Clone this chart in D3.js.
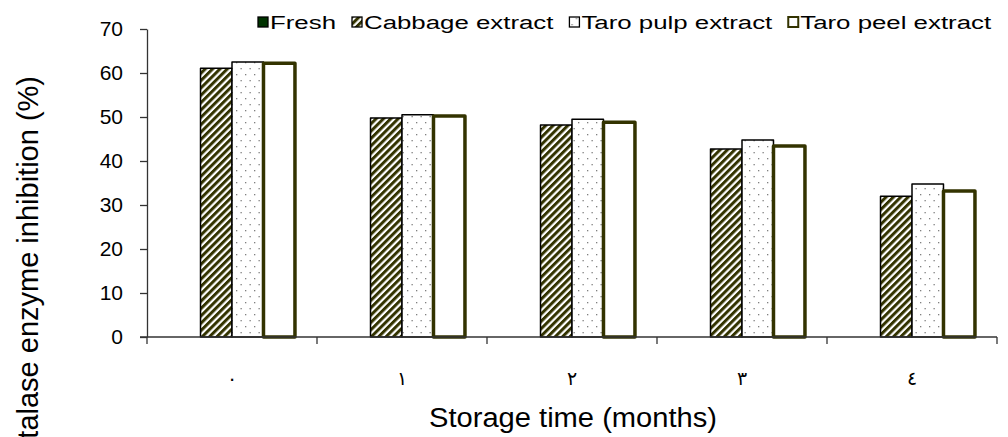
<!DOCTYPE html>
<html>
<head>
<meta charset="utf-8">
<script src="https://cdn.jsdelivr.net/npm/d3@7"></script>
<style>
  body { margin: 0; background: #fff; }
  text { font-family: "Liberation Sans", Arial, sans-serif; fill: #000; }
</style>
</head>
<body>
<div id="chart"></div>
<script>
// data
const categories = ["٠", "١", "٢", "٣", "٤"];
const seriesNames = ["Fresh", "Cabbage extract", "Taro pulp extract", "Taro peel extract"];
const fresh = [null, null, null, null, null];
const cabbage = [61.1, 49.8, 48.2, 42.7, 32.0];
const taroPulp = [62.5, 50.5, 49.5, 44.8, 34.8];
const taroPeel = [62.2, 50.2, 48.8, 43.4, 33.2];
const yTicks = [0, 10, 20, 30, 40, 50, 60, 70];

const seriesValues = [fresh, cabbage, taroPulp, taroPeel];

// canvas
const width = 1008;
const height = 437;
const plotLeft = 147, plotRight = 997, plotTop = 29, plotBottom = 337;

const svg = d3.select("#chart")
  .append("svg")
  .attr("width", width)
  .attr("height", height);

// patterns
const defs = svg.append("defs");

const hatch = defs.append("pattern")
  .attr("id", "hatch")
  .attr("patternUnits", "userSpaceOnUse")
  .attr("width", 5.2)
  .attr("height", 10)
  .attr("patternTransform", "rotate(45)");
hatch.append("rect").attr("width", 5.2).attr("height", 10).attr("fill", "#fff");
hatch.append("rect").attr("width", 3).attr("height", 10).attr("fill", "#333300");

const dots = defs.append("pattern")
  .attr("id", "dots")
  .attr("patternUnits", "userSpaceOnUse")
  .attr("width", 9)
  .attr("height", 12);
dots.append("rect").attr("width", 9).attr("height", 12).attr("fill", "#fff");
dots.append("rect").attr("x", 2).attr("y", 2).attr("width", 1.3).attr("height", 1.3).attr("fill", "#808080");
dots.append("rect").attr("x", 6.5).attr("y", 8).attr("width", 1.3).attr("height", 1.3).attr("fill", "#808080");

const fills = ["#003300", "url(#hatch)", "url(#dots)", "#fff"];
const strokes = ["#000", "#000", "#000", "#333300"];
const strokeWidths = [1.2, 1.5, 1.5, 3.5];

// scales
const x0 = d3.scaleBand().domain(categories).range([plotLeft, plotRight]).padding(0);
const x1 = d3.scaleBand().domain(d3.range(seriesNames.length))
  .range([0, x0.bandwidth()]).paddingInner(0).paddingOuter(0.7);
const y = d3.scaleLinear().domain([0, 70]).range([plotBottom, plotTop]);

// bars
seriesValues.forEach(function (vals, s) {
  svg.append("g")
    .selectAll("rect")
    .data(vals.map((v, i) => ({ cat: categories[i], v: v })).filter(d => d.v != null))
    .enter()
    .append("rect")
    .attr("x", d => x0(d.cat) + x1(s))
    .attr("y", d => y(d.v))
    .attr("width", x1.bandwidth())
    .attr("height", d => y(0) - y(d.v))
    .attr("fill", fills[s])
    .attr("stroke", strokes[s])
    .attr("stroke-width", strokeWidths[s])
    .attr("stroke-linejoin", "round");
});

// y axis
const yAxis = svg.append("g")
  .attr("transform", "translate(" + plotLeft + ",0)")
  .call(d3.axisLeft(y).tickValues(yTicks).tickSize(7).tickPadding(17).tickSizeOuter(0));
yAxis.select(".domain").attr("stroke", "#333").attr("stroke-width", 1.3);
yAxis.selectAll(".tick line").attr("stroke", "#333").attr("stroke-width", 1.3);
yAxis.selectAll(".tick text")
  .style("font-family", "Liberation Sans, Arial, sans-serif")
  .style("font-size", "21px")
  .attr("fill", "#000");

// x axis: ticks on category boundaries
const xAxisG = svg.append("g").attr("transform", "translate(0," + plotBottom + ")");
xAxisG.append("line")
  .attr("x1", plotLeft - 7).attr("x2", plotRight)
  .attr("stroke", "#333").attr("stroke-width", 1.3);
xAxisG.selectAll(".bnd")
  .data(categories.concat(["end"]))
  .enter()
  .append("line")
  .attr("x1", (d, i) => i < categories.length ? x0(d) : plotRight)
  .attr("x2", (d, i) => i < categories.length ? x0(d) : plotRight)
  .attr("y1", 0).attr("y2", 7)
  .attr("stroke", "#333").attr("stroke-width", 1.3);
xAxisG.selectAll(".lbl")
  .data(categories)
  .enter()
  .append("text")
  .attr("x", d => x0(d) + x0.bandwidth() / 2)
  .attr("y", 48)
  .attr("text-anchor", "middle")
  .style("font-family", "DejaVu Sans, sans-serif")
  .style("font-size", "19px")
  .text(d => d);

// axis titles
svg.append("text")
  .attr("x", 573)
  .attr("y", 427)
  .attr("text-anchor", "middle")
  .attr("textLength", 288)
  .attr("lengthAdjust", "spacingAndGlyphs")
  .style("font-size", "27px")
  .text("Storage time (months)");

svg.append("text")
  .attr("transform", "translate(38,76) rotate(-90)")
  .attr("text-anchor", "end")
  .style("font-size", "29px")
  .text("Catalase enzyme inhibition (%)");

// legend
const legend = svg.append("g").attr("transform", "translate(258,22)");
const stretch = 1.36;
let lx = 0;
seriesNames.forEach(function (name, s) {
  const item = legend.append("g").attr("transform", "translate(" + lx + ",0)");
  item.append("rect")
    .attr("x", 0).attr("y", -5)
    .attr("width", 10).attr("height", 10)
    .attr("fill", fills[s])
    .attr("stroke", s === 3 ? "#333300" : "#000")
    .attr("stroke-width", s === 3 ? 2 : 1.3);
  const t = item.append("text")
    .attr("transform", "translate(12,7) scale(" + stretch + ",1)")
    .style("font-size", "19px")
    .text(name);
  lx += 12 + t.node().getComputedTextLength() * stretch + 16;
});
</script>
</body>
</html>
